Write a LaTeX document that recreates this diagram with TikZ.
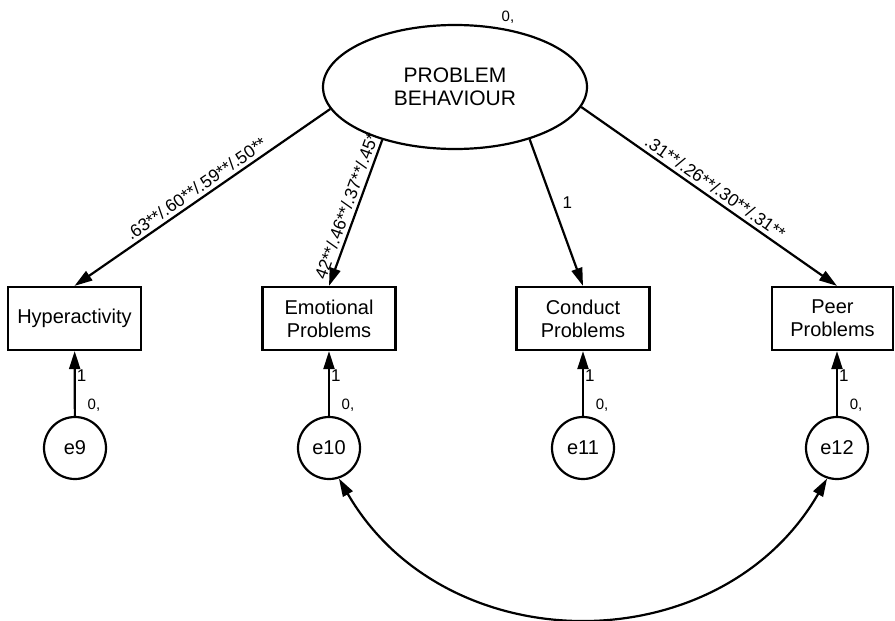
\documentclass[tikz,border=0pt]{standalone}
\usepackage{fontspec}
\setmainfont{Liberation Sans}
\usetikzlibrary{arrows.meta,shapes.geometric}
\begin{document}
\begin{tikzpicture}[x=1pt,y=-1pt,
  arr/.style={line width=2.2pt,-{Triangle[length=18pt,width=11pt]}},
  cov/.style={line width=2.2pt,{Triangle[length=18pt,width=11pt]}-{Triangle[length=18pt,width=11pt]}},
  obs/.style={draw,line width=2.2pt,minimum width=133pt,minimum height=63pt,inner sep=0pt,align=center,font=\fontsize{20}{23}\selectfont},
  err/.style={draw,circle,line width=2.2pt,minimum size=62pt,inner sep=0pt,font=\fontsize{20}{22}\selectfont},
  lat/.style={draw,ellipse,line width=2.2pt,minimum width=264pt,minimum height=124pt,inner sep=0pt,align=center,font=\fontsize{21}{23}\selectfont},
  load/.style={font=\fontsize{17.5}{19}\selectfont,inner sep=3.5pt},
  small/.style={font=\fontsize{15}{16}\selectfont,inner sep=0pt},
  one/.style={font=\fontsize{17}{18}\selectfont,inner sep=1pt}]
\useasboundingbox (0,0) rectangle (895,621);

\node[lat] (pb) at (455,87) {PROBLEM\\BEHAVIOUR};
\node[small] (v0) at (508,17) {0,};

\node[obs] (hyp) at (74.5,318.5) {Hyperactivity};
\node[obs] (emo) at (329,318.5) {Emotional\\Problems};
\node[obs] (con) at (583,318.5) {Conduct\\Problems};
\node[obs,minimum width=121pt] (peer) at (832.5,318.5) {Peer\\Problems};

\node[err] (e9) at (75,448) {e9};
\node[err] (e10) at (329,448) {e10};
\node[err] (e11) at (583,448) {e11};
\node[err] (e12) at (837,448) {e12};

\node[small] (v9) at ([shift={(19,-43)}]e9.center) {0,};
\node[small] (v10) at ([shift={(19,-43)}]e10.center) {0,};
\node[small] (v11) at ([shift={(19,-43)}]e11.center) {0,};
\node[small] (v12) at ([shift={(19,-43)}]e12.center) {0,};

\draw[arr] (pb.190) -- node[load,above,sloped,pos=0.5] {.63**/.60**/.59**/.50**} (hyp.north);
\draw[arr] (pb.216) -- node[load,above,sloped,pos=0.48] {42**/.46**/.37**/.45*} (emo.north);
\draw[arr] (pb.325) -- node[one,right=8pt,pos=0.43] {1} (con.north);
\draw[arr] (pb.351) -- node[load,above,sloped,pos=0.5] {.31**/.26**/.30**/.31**} (e12 |- peer.north);

\draw[arr] (e9) -- node[one,right,pos=0.62] {1} (hyp);
\draw[arr] (e10) -- node[one,right,pos=0.62] {1} (emo);
\draw[arr] (e11) -- node[one,right,pos=0.62] {1} (con);
\draw[arr] (e12) -- node[one,right,pos=0.62] {1} (e12 |- peer.south);

\draw[cov] (e10.288) .. controls ([shift={(107,185)}]e10.288) and ([shift={(-107,185)}]e12.252) .. (e12.252);
\end{tikzpicture}
\end{document}
